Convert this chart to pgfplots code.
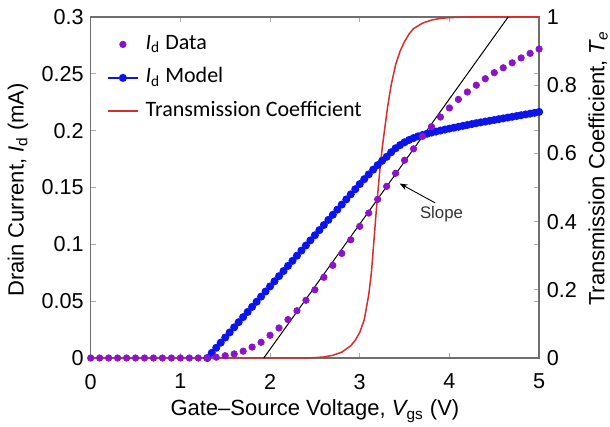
\documentclass[border=0pt]{standalone}
\usepackage{fontspec}
\setmainfont{Liberation Sans}
\newfontfamily\legendfont{Carlito}
\usepackage{pgfplots}
\usepackage{pgfplotstable}
\pgfplotsset{compat=1.18}
\usetikzlibrary{arrows.meta}
\definecolor{dataP}{RGB}{140,20,200}
\definecolor{modelB}{RGB}{10,20,235}
\definecolor{redT}{RGB}{215,45,45}
\definecolor{axgray}{RGB}{110,110,110}
\definecolor{tickgray}{RGB}{170,170,170}

\pgfplotstableread{
V I
0.0 0
0.1 0
0.2 0
0.3 0
0.4 0
0.5 0
0.6 0
0.7 0
0.8 0
0.9 0
1.0 0
1.1 0
1.2 0
1.3 0
1.4 0.0007
1.5 0.002
1.6 0.0036
1.7 0.006
1.8 0.0096
1.9 0.0138
2.0 0.020
2.1 0.0264
2.2 0.0338
2.3 0.0416
2.4 0.0508
2.5 0.060
2.6 0.071
2.7 0.0815
2.8 0.092
2.9 0.104
3.0 0.1158
3.1 0.1275
3.2 0.1396
3.3 0.151
3.4 0.1625
3.5 0.174
3.6 0.184
3.7 0.195
3.8 0.2035
3.9 0.212
4.0 0.220
4.1 0.2275
4.2 0.234
4.3 0.240
4.4 0.2457
4.5 0.251
4.6 0.2553
4.7 0.2597
4.8 0.264
4.9 0.268
5.0 0.2718
}\datatab

\pgfplotstableread{
V I
1.30 0.000
1.35 0.0045
1.40 0.009
1.45 0.0135
1.50 0.018
1.55 0.0225
1.60 0.027
1.65 0.0315
1.70 0.036
1.75 0.0405
1.80 0.045
1.85 0.0495
1.90 0.054
1.95 0.0585
2.00 0.063
2.05 0.0675
2.10 0.072
2.15 0.0765
2.20 0.081
2.25 0.0855
2.30 0.090
2.35 0.0945
2.40 0.099
2.45 0.1035
2.50 0.108
2.55 0.1125
2.60 0.117
2.65 0.1215
2.70 0.126
2.75 0.1305
2.80 0.135
2.85 0.1395
2.90 0.144
2.95 0.1485
3.00 0.153
3.05 0.1573
3.10 0.1615
3.15 0.1657
3.20 0.1697
3.25 0.1735
3.30 0.1770
3.35 0.1810
3.40 0.1845
3.45 0.1873
3.50 0.1898
3.55 0.1918
3.60 0.1935
3.65 0.1950
3.70 0.1962
3.75 0.1973
3.80 0.1983
3.85 0.1992
3.90 0.2001
3.95 0.2010
4.00 0.2018
4.05 0.2026
4.10 0.2034
4.15 0.2042
4.20 0.2050
4.25 0.2058
4.30 0.2066
4.35 0.2073
4.40 0.2080
4.45 0.2087
4.50 0.2094
4.55 0.2101
4.60 0.2108
4.65 0.2115
4.70 0.2122
4.75 0.2129
4.80 0.2136
4.85 0.2143
4.90 0.2150
4.95 0.2157
5.00 0.2165
}\modeltab

\pgfplotstableread{
V T
0.00 0
1.00 0
2.00 0
2.40 0
2.50 0.001
2.60 0.003
2.70 0.008
2.80 0.017
2.90 0.036
2.95 0.052
3.00 0.075
3.05 0.112
3.10 0.185
3.13 0.250
3.16 0.350
3.19 0.450
3.22 0.540
3.25 0.615
3.28 0.675
3.31 0.735
3.35 0.800
3.40 0.860
3.45 0.900
3.50 0.928
3.55 0.950
3.60 0.966
3.70 0.982
3.80 0.991
3.90 0.996
4.00 0.998
4.20 1.000
5.00 1.000
}\transtab

\begin{document}
\begin{tikzpicture}
\path[use as bounding box] (-45.35pt,-34.5pt) rectangle (259.65pt,179pt);
\begin{axis}[
  at={(0pt,0pt)}, anchor=south west,
  scale only axis, width=224.2pt, height=170.5pt,
  xmin=0, xmax=5, ymin=0, ymax=1,
  clip=false,
  axis x line=none,
  axis y line*=right,
  ytick={0,0.2,0.4,0.6,0.8,1},
  yticklabels={0,0.2,0.4,0.6,0.8,1},
  tick align=inside,
  major tick length=2.5pt,
  tick style={tickgray, line width=0.5pt},
  axis line style={axgray, line width=0.7pt},
  ticklabel style={font=\fontsize{10.8}{12}\selectfont},
  yticklabel style={xshift=0.3pt},
  /pgf/number format/assume math mode=true,
  ylabel={Transmission Coefficient, {\itshape T}\textsubscript{\itshape e}},
  label style={font=\fontsize{11}{13}\selectfont},
  ylabel style={at={(axis description cs:1.1316,0.5557)}, anchor=center},
]
\end{axis}
\begin{axis}[
  at={(0pt,0pt)}, anchor=south west,
  scale only axis, width=224.2pt, height=170.5pt,
  xmin=0, xmax=5, ymin=0, ymax=0.3,
  clip=false,
  xtick={0,1,2,3,4,5},
  ytick={0,0.05,0.1,0.15,0.2,0.25,0.3},
  yticklabels={0,0.05,0.1,0.15,0.2,0.25,0.3},
  xticklabels={0,1,2,3,4,5},
  tick align=inside,
  major tick length=2.5pt,
  tick style={tickgray, line width=0.5pt},
  axis line style={axgray, line width=0.7pt},
  ticklabel style={font=\fontsize{10.8}{12}\selectfont},
  xticklabel style={yshift=-4.5pt},
  /pgf/number format/assume math mode=true,
  xlabel={Gate\textendash Source Voltage, {\itshape V}\textsubscript{gs} (V)},
  ylabel={Drain Current, {\itshape I}\textsubscript{d} (mA)},
  label style={font=\fontsize{11}{13}\selectfont},
  xlabel style={at={(rel axis cs:0.5,0)}, anchor=center, yshift=-26.5pt},
  ylabel style={at={(axis description cs:-0.1622,0.4927)}, anchor=center},
  legend style={draw=none, fill=none, at={(rel axis cs:0,1)}, anchor=north west,
    xshift=8.2pt, yshift=-8.2pt, inner sep=0pt, outer sep=0pt,
    font=\legendfont\fontsize{11}{13}\selectfont,
    nodes={inner sep=0pt, anchor=west, text height=8pt, text depth=3pt},
    column sep=3.5pt, row sep=5.75pt},
  legend cell align=left,
]
\addplot[modelB, line width=0.8pt, mark=*, mark size=1.6pt, mark options={draw=modelB, fill=modelB}, forget plot] table[x=V,y=I] {\modeltab};
\addlegendimage{only marks, mark=*, mark size=1.6pt, dataP, mark options={draw=dataP, fill=dataP},
  legend image code/.code={\fill[dataP] (7.5pt,0pt) circle (1.6pt);}}
\addlegendentry{{\itshape I}\textsubscript{d} Data}
\addlegendimage{modelB, line width=0.8pt, mark=*, mark size=1.6pt, mark options={draw=modelB, fill=modelB},
  legend image code/.code={\draw[modelB, line width=0.8pt] (0pt,0pt) -- (15pt,0pt); \fill[modelB] (7.5pt,0pt) circle (1.6pt);}}
\addlegendentry{{\itshape I}\textsubscript{d} Model}
\addlegendimage{redT, line width=0.8pt,
  legend image code/.code={\fill[fill=redT, draw=none] (0pt,-0.45pt) rectangle (15pt,0.45pt);}}
\addlegendentry{Transmission Coefficient}
\addplot[redT, line width=0.75pt, forget plot] table[x=V, y expr=0.3*\thisrow{T}] {\transtab};
\addplot[only marks, mark=*, mark size=1.6pt, dataP, mark options={draw=dataP, fill=dataP}, forget plot] table[x=V,y=I] {\datatab};
\addplot[black, line width=0.5pt, forget plot] coordinates {(1.93,0) (4.655,0.3)};
\draw[-{Stealth[length=4pt,width=3pt]}, black, line width=0.45pt] (axis cs:3.84,0.1365) -- (axis cs:3.445,0.1535);
\node[font=\fontsize{8.4}{10}\selectfont, text=black!80] at (axis cs:3.912,0.1266) {Slope};
\end{axis}
\end{tikzpicture}
\end{document}
